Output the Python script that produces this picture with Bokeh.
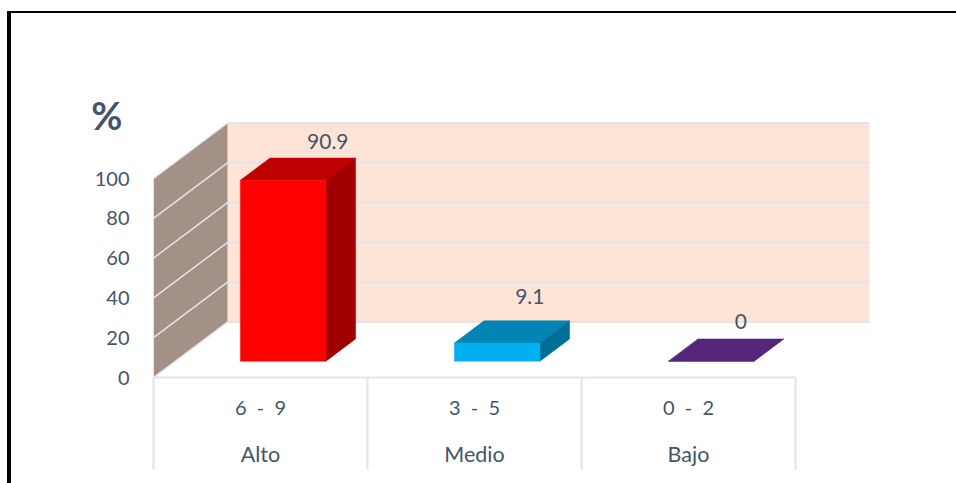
from bokeh.embed import file_html
from bokeh.resources import INLINE
from bokeh.plotting import figure
from bokeh.models import LinearAxis, FixedTicker, Range1d, InlineStyleSheet
from bokeh.core.properties import value

categories = ["Alto", "Medio", "Bajo"]
ranges = ["6\u00a0\u00a0-\u00a0\u00a09", "3\u00a0\u00a0-\u00a0\u00a05", "0\u00a0\u00a0-\u00a0\u00a02"]
values = [90.9, 9.1, 0]
y_ticks = [0, 20, 40, 60, 80, 100]
y_title = "%"
colors_front = ["#ff0000", "#00b0f0", "#55267a"]
colors_top = ["#bf0000", "#0085b5", "#55267a"]
colors_side = ["#a00000", "#006f97", "#55267a"]
label_dx = [15, 3, 0]
label_dy = [17, 24, 17]

FONT = "Lato"
TXT = "#44546a"
GRID = "#e1e4ea"
PX_X = 214.0   # px per category
PX_Y = 1.99    # px per value unit
DX = 74 / PX_X  # wall depth in x units
DY = 55.5 / PX_Y  # wall depth in y units
W, H = 956, 483
LEFT, BOTTOM = 153, 106

def proj(x, y, d):
    return x + d * DX, y + d * DY

frame_css = InlineStyleSheet(css=""":host::before{content:'';position:absolute;left:7px;top:11px;right:0;bottom:0;
border-left:4px solid #000;border-top:2.5px solid #000;pointer-events:none;z-index:10}""")

p = figure(width=W, height=H, output_backend="svg", toolbar_location=None,
           x_range=Range1d(0, (W - LEFT) / PX_X), y_range=Range1d(0, (H - BOTTOM) / PX_Y),
           min_border_left=LEFT, min_border_bottom=BOTTOM, min_border_top=0, min_border_right=0,
           x_axis_location=None, y_axis_location=None, outline_line_color=None,
           background_fill_color="white", border_fill_color="white", stylesheets=[frame_css])
p.grid.visible = False

# walls
top = y_ticks[-1]
n = len(categories)
bx, by = zip(*[proj(0, 0, 1), proj(n, 0, 1), proj(n, top, 1), proj(0, top, 1)])
p.patch(list(bx), list(by), fill_color="#fde4d6", line_color=None)
sx, sy = zip(*[proj(0, 0, 0), proj(0, 0, 1), proj(0, top, 1), proj(0, top, 0)])
p.patch(list(sx), list(sy), fill_color="#a39086", line_color=None)

# gridlines
for t in y_ticks:
    a, b = proj(0, t, 0), proj(0, t, 1)
    c = proj(n, t, 1)
    p.line([a[0], b[0]], [a[1], b[1]], line_color=GRID, line_width=1.5)
    p.line([b[0], c[0]], [b[1], c[1]], line_color=GRID, line_width=2)

# bars
D0, D1 = 0.295, 0.695
BW = 0.4
for i, v in enumerate(values):
    x0 = i + 0.5 - BW / 2 + 0.004
    x1 = x0 + BW
    def P(corners):
        xs, ys = zip(*[proj(x, y, d) for x, y, d in corners])
        return list(xs), list(ys)
    xs, ys = P([(x0, v, D0), (x1, v, D0), (x1, v, D1), (x0, v, D1)])
    p.patch(xs, ys, fill_color=colors_top[i], line_color=colors_top[i], line_width=0.5)
    xs, ys = P([(x1, 0, D0), (x1, 0, D1), (x1, v, D1), (x1, v, D0)])
    p.patch(xs, ys, fill_color=colors_side[i], line_color=colors_side[i], line_width=0.5)
    xs, ys = P([(x0, 0, D0), (x1, 0, D0), (x1, v, D0), (x0, v, D0)])
    p.patch(xs, ys, fill_color=colors_front[i], line_color=colors_front[i], line_width=0.5)
    lx, ly = proj((x0 + x1) / 2, v, D1)
    p.text([lx], [ly], text=[str(v)], x_offset=[label_dx[i]], y_offset=[-label_dy[i]],
           text_align="center", text_baseline="middle", text_color=TXT,
           text_font=value(FONT), text_font_size="21px")

# axes
centers = [i + 0.5 for i in range(n)]
bounds = list(range(n + 1))

ya = LinearAxis(ticker=FixedTicker(ticks=y_ticks), axis_line_color=None,
                major_tick_line_color=None, minor_tick_line_color=None,
                major_label_standoff=18, major_label_text_color=TXT,
                major_label_text_font=FONT, major_label_text_font_size="20px")
p.add_layout(ya, "left")

# the "%" heading sits over the value axis, as a one-tick axis of its own
title_at = 132
yt = LinearAxis(ticker=FixedTicker(ticks=[title_at]), axis_line_color=None,
                major_tick_line_color=None, minor_tick_line_color=None,
                major_label_standoff=-37, major_label_text_color=TXT,
                major_label_text_font=FONT, major_label_text_font_style="bold",
                major_label_text_font_size="38px",
                major_label_overrides={title_at: y_title})
p.add_layout(yt, "left")

xa = LinearAxis(ticker=FixedTicker(ticks=centers, minor_ticks=bounds), bounds=(0, n),
                axis_line_color=GRID, axis_line_width=2,
                major_tick_line_color=None, major_tick_in=0, major_tick_out=0,
                minor_tick_line_color=GRID, minor_tick_line_width=2, minor_tick_in=0, minor_tick_out=92,
                major_label_standoff=-75, major_label_text_color=TXT,
                major_label_text_font=FONT, major_label_text_font_size="20px",
                major_label_overrides={c: r for c, r in zip(centers, ranges)})
p.add_layout(xa, "below")

xb = LinearAxis(ticker=FixedTicker(ticks=centers), axis_line_color=None,
                major_tick_line_color=None, minor_tick_line_color=None,
                major_label_standoff=13, major_label_text_color=TXT,
                major_label_text_font=FONT, major_label_text_font_size="21.5px",
                major_label_overrides={c: r for c, r in zip(centers, categories)})
p.add_layout(xb, "below")

open("out.html", "w").write(file_html(p, INLINE))
